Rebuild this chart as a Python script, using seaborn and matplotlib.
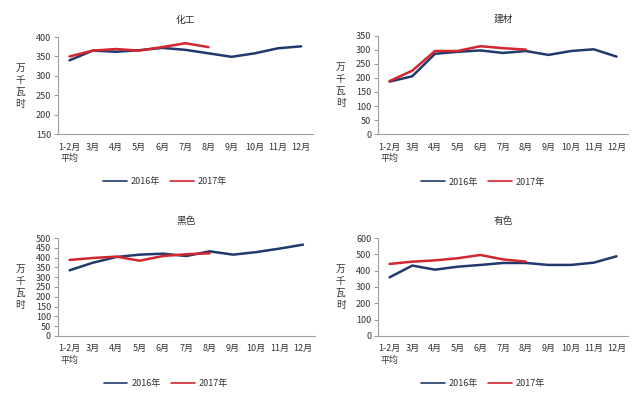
import matplotlib
matplotlib.use("Agg")
import matplotlib.pyplot as plt
import seaborn as sns
import pandas as pd
import numpy as np

sns.set_theme(style="white")
plt.rcParams['font.family'] = ['Noto Sans CJK SC', 'DejaVu Sans']

months = ["1-2月\n平均", "3月", "4月", "5月", "6月", "7月", "8月", "9月", "10月", "11月", "12月"]
years = ["2016年", "2017年"]

chem_2016 = [340, 365, 362, 366, 372, 367, 358, 349, 358, 371, 376]
chem_2017 = [350, 365, 369, 365, 374, 384, 374]
build_2016 = [187, 206, 286, 293, 298, 289, 296, 282, 296, 302, 276]
build_2017 = [189, 226, 296, 296, 313, 306, 301]
ferrous_2016 = [335, 374, 403, 415, 420, 408, 432, 415, 428, 446, 466]
ferrous_2017 = [388, 398, 405, 384, 408, 417, 422]
nonfer_2016 = [359, 431, 406, 424, 435, 447, 447, 435, 435, 449, 488]
nonfer_2017 = [441, 455, 463, 476, 496, 469, 455]

panels = [
    ("化工", chem_2016, chem_2017, (150, 400), 50),
    ("建材", build_2016, build_2017, (0, 350), 50),
    ("黑色", ferrous_2016, ferrous_2017, (0, 500), 50),
    ("有色", nonfer_2016, nonfer_2017, (0, 600), 100),
]

rects = [
    [0.0906, 0.663, 0.398, 0.244],
    [0.591, 0.663, 0.390, 0.247],
    [0.0906, 0.156, 0.401, 0.246],
    [0.591, 0.156, 0.390, 0.246],
]

palette = {"2016年": "#1f3a6b", "2017年": "#d3262e"}
txt = "#333333"
spine_c = "#a0a0a0"

fig = plt.figure(figsize=(6.4, 3.98), dpi=100)

for (title, s16, s17, ylim, step), rect in zip(panels, rects):
    ax = fig.add_axes(rect)
    df = pd.DataFrame({
        "month": months + months[:len(s17)],
        "value": s16 + s17,
        "year": [years[0]] * len(s16) + [years[1]] * len(s17),
    })
    sns.lineplot(data=df, x="month", y="value", hue="year", palette=palette,
                 linewidth=1.8, ax=ax, sort=False, legend=True)
    ax.set_xlim(-0.5, len(months) - 0.5)
    ax.set_ylim(*ylim)
    ax.set_yticks(np.arange(ylim[0], ylim[1] + 1, step))
    ax.set_xticks(range(len(months)))
    ax.set_xticklabels(months)
    ax.set_xticks(np.arange(-0.5, len(months), 1.0), minor=True)
    ax.tick_params(axis='x', which='major', length=0, labelsize=6.5, colors=txt, pad=6)
    ax.tick_params(axis='x', which='minor', length=3, width=0.8, color=spine_c, direction='out')
    ax.tick_params(axis='y', which='major', length=3, width=0.8, color=spine_c,
                   labelsize=6.5, labelcolor=txt, pad=2, left=True)
    for lbl in ax.get_xticklabels():
        lbl.set_verticalalignment('top')
        lbl.set_linespacing(1.3)
    for side in ['top', 'right']:
        ax.spines[side].set_visible(False)
    for side in ['left', 'bottom']:
        ax.spines[side].set_color(spine_c)
        ax.spines[side].set_linewidth(0.8)
    ax.set_xlabel("")
    ax.set_ylabel("万\n千\n瓦\n时", rotation=0, fontsize=7, color=txt,
                  labelpad=11, va='center', linespacing=1.25)
    ax.set_title(title, fontsize=7, color=txt, pad=10)
    ax.grid(False)
    leg = ax.legend(loc='upper center', bbox_to_anchor=(0.42, -0.36), ncol=2,
                    frameon=False, fontsize=6.5, handlelength=2.6, columnspacing=1.2,
                    handletextpad=0.4)
    for t in leg.get_texts():
        t.set_color(txt)
    for ln in leg.get_lines():
        ln.set_linewidth(1.2)

fig.savefig("out.png", dpi=100, facecolor="white")
